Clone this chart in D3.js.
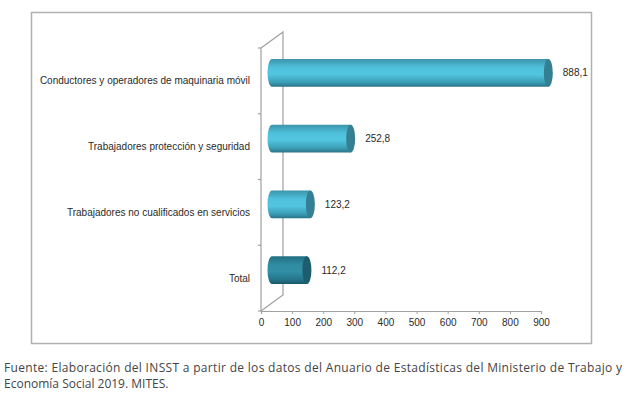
<!DOCTYPE html>
<html>
<head>
<meta charset="utf-8">
<script src="https://cdn.jsdelivr.net/npm/d3@7"></script>
<style>
  body { margin: 0; background: #fff; }
  text { font-family: "Liberation Sans", Arial, sans-serif; }
</style>
</head>
<body>
<script>
// data
const categories = [
  "Conductores y operadores de maquinaria móvil",
  "Trabajadores protección y seguridad",
  "Trabajadores no cualificados en servicios",
  "Total"
];
const values = [888.1, 252.8, 123.2, 112.2];
const xTicks = [0, 100, 200, 300, 400, 500, 600, 700, 800, 900];
const sourceLines = [
  "Fuente: Elaboración del INSST a partir de los datos del Anuario de Estadísticas del Ministerio de Trabajo y",
  "Economía Social 2019. MITES."
];

const width = 628, height = 395;
const svg = d3.select("body").append("svg")
  .attr("width", width)
  .attr("height", height);

const locale = d3.formatLocale({ decimal: ",", thousands: ".", grouping: [3], currency: ["", "€"] });
const fmt = locale.format(".1f");

// gradients for the cylinders
const defs = svg.append("defs");
function grad(id, stops) {
  const g = defs.append("linearGradient").attr("id", id)
    .attr("x1", 0).attr("y1", 0).attr("x2", 0).attr("y2", 1);
  stops.forEach(([o, c]) => g.append("stop").attr("offset", o).attr("stop-color", c));
}
grad("light", [[0, "#3c94aa"], [0.3, "#4fc0dc"], [0.55, "#52c6e1"], [0.85, "#3a9cb4"], [1, "#2a7488"]]);
grad("dark", [[0, "#226f82"], [0.3, "#2f8ba1"], [0.55, "#3190a6"], [0.85, "#24748a"], [1, "#1b5666"]]);

// outer frame
svg.append("rect")
  .attr("x", 31.5).attr("y", 12.5)
  .attr("width", 560).attr("height", 331)
  .attr("fill", "none")
  .attr("stroke", "#b0b0b0")
  .attr("stroke-width", 1.5);

const x = d3.scaleLinear().domain([0, 900]).range([261, 541]);
const y = d3.scaleBand().domain(categories).range([48, 311]);

const depthX = 22, depthY = -16;
const gray = "#a0a0a0";
const labelFont = "10px";

// 3D walls
const walls = svg.append("g").attr("stroke", gray).attr("fill", "none").attr("stroke-width", 1.2);
const x0 = x(0), yTop = y.range()[0], yBot = y.range()[1];
walls.append("path").attr("d", `M${x0},${yTop} L${x0 + depthX},${yTop + depthY} L${x0 + depthX},${yBot + depthY} L${x0},${yBot}`);
walls.append("line").attr("x1", x0).attr("x2", x0).attr("y1", yTop).attr("y2", yBot);
// category ticks on the front edge
const bounds = categories.map(c => y(c)).concat([yBot]);
walls.selectAll(".ct").data(bounds).join("line")
  .attr("x1", x0 - 3).attr("x2", x0)
  .attr("y1", d => d).attr("y2", d => d);

// x axis
const xAxis = svg.append("g")
  .attr("transform", `translate(0,${yBot})`)
  .call(d3.axisBottom(x).tickValues(xTicks).tickSize(3).tickPadding(5).tickFormat(d3.format("d")));
xAxis.select(".domain").attr("stroke", gray).attr("stroke-width", 1.2);
xAxis.selectAll(".tick line").attr("stroke", gray);
xAxis.selectAll(".tick text")
  .attr("fill", "#2a2a2a")
  .style("font-size", labelFont)
  .style("font-family", "Liberation Sans, Arial, sans-serif");

// bars as cylinders at mid depth
const barH = y.bandwidth() * 0.42;
const ox = depthX / 2, oy = depthY / 2;
const rx = 4.5;

const bars = svg.append("g").selectAll("g").data(categories).join("g");
bars.each(function (c, i) {
  const g = d3.select(this);
  const v = values[i];
  const cy = y(c) + y.bandwidth() / 2 + oy;
  const xs = x(0) + ox, xe = x(v) + ox;
  const top = cy - barH / 2, bot = cy + barH / 2;
  const isTotal = c === "Total";
  g.append("path")
    .attr("d", `M${xe},${top} L${xs},${top} A${rx},${barH / 2} 0 0 0 ${xs},${bot} L${xe},${bot} Z`)
    .attr("fill", isTotal ? "url(#dark)" : "url(#light)");
  g.append("ellipse")
    .attr("cx", xe).attr("cy", cy)
    .attr("rx", rx).attr("ry", barH / 2)
    .attr("fill", isTotal ? "#1d5d6d" : "#357f92");
  g.append("text")
    .attr("x", xe + rx + 10).attr("y", cy)
    .attr("dy", "0.35em")
    .attr("fill", "#2a2a2a")
    .style("font-size", labelFont)
    .text(fmt(v));
});

// category labels
svg.append("g").selectAll("text").data(categories).join("text")
  .attr("x", 250)
  .attr("y", d => y(d) + y.bandwidth() / 2)
  .attr("dy", "0.35em")
  .attr("text-anchor", "end")
  .attr("fill", "#2a2a2a")
  .style("font-size", labelFont)
  .text(d => d);

// source note
svg.append("g").selectAll("text").data(sourceLines).join("text")
  .attr("x", 4)
  .attr("y", (d, i) => 372 + i * 16)
  .attr("fill", "#444")
  .style("font-size", "12px")
  .style("font-family", "'Open Sans', 'Liberation Sans', sans-serif")
  .attr("textLength", (d, i) => i === 0 ? 618 : null)
  .attr("lengthAdjust", "spacing")
  .text(d => d);
</script>
</body>
</html>
